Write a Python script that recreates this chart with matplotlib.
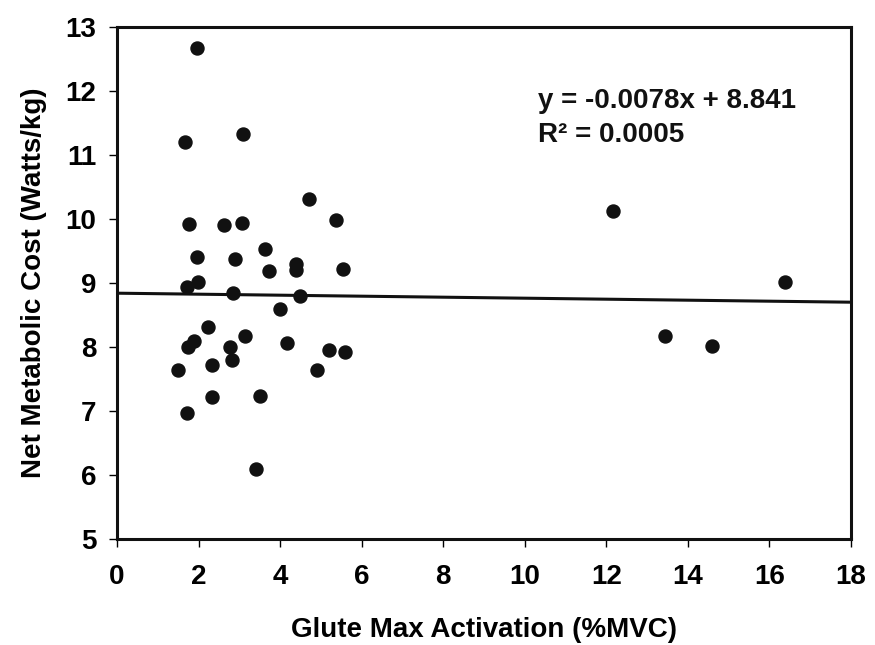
import matplotlib
matplotlib.use("Agg")
import matplotlib.pyplot as plt
import numpy as np

# data
activation = [1.96, 1.67, 3.10, 1.76, 2.62, 3.06, 4.71, 5.36, 3.64, 1.95,
              2.90, 3.73, 4.40, 4.40, 5.55, 1.72, 1.98, 2.84, 4.50, 3.99,
              2.22, 1.89, 1.73, 3.14, 2.78, 2.83, 4.18, 5.19, 5.60, 1.50,
              2.34, 4.91, 2.34, 3.50, 1.72, 3.40, 12.17, 16.38, 13.43, 14.59]
metabolic_cost = [12.66, 11.20, 11.32, 9.92, 9.90, 9.94, 10.31, 9.98, 9.53, 9.40,
                  9.37, 9.18, 9.29, 9.20, 9.22, 8.94, 9.02, 8.85, 8.80, 8.59,
                  8.32, 8.09, 8.00, 8.18, 8.00, 7.80, 8.06, 7.96, 7.93, 7.65,
                  7.72, 7.64, 7.22, 7.24, 6.97, 6.10, 10.12, 9.02, 8.17, 8.02]

slope = -0.0078
intercept = 8.841
r_squared = 0.0005

x_ticks = [0, 2, 4, 6, 8, 10, 12, 14, 16, 18]
y_ticks = [5, 6, 7, 8, 9, 10, 11, 12, 13]

plt.rcParams['font.family'] = ['Liberation Sans', 'DejaVu Sans']
plt.rcParams['font.weight'] = 'bold'

fig = plt.figure(figsize=(8.75, 6.45), dpi=100)
ax = fig.add_axes([0.1337, 0.1636, 0.8389, 0.7953])

ax.scatter(activation, metabolic_cost, s=88, color='#111111', zorder=3)

# trend line
line_x = np.array([0, 18])
ax.plot(line_x, slope * line_x + intercept, color='#111111', linewidth=2.2)

ax.text(10.32, 11.73, f"y = {slope}x + {intercept}",
        fontsize=20, fontweight='bold', color='#111111', va='baseline')
ax.text(10.32, 11.20, f"R² = {r_squared}",
        fontsize=20, fontweight='bold', color='#111111', va='baseline')

ax.set_xlim(0, 18)
ax.set_ylim(5, 13)
ax.set_xticks(x_ticks)
ax.set_yticks(y_ticks)
ax.tick_params(direction='out', length=6, width=1, labelsize=20)
ax.tick_params(axis='x', pad=12)
ax.tick_params(axis='y', pad=9)
for spine in ax.spines.values():
    spine.set_linewidth(2.2)
    spine.set_color('#111111')

ax.set_xlabel('Glute Max Activation (%MVC)', fontsize=20, fontweight='bold', labelpad=19)
ax.set_ylabel('Net Metabolic Cost (Watts/kg)', fontsize=20, fontweight='bold', labelpad=13)

fig.savefig('out.png', dpi=100)
